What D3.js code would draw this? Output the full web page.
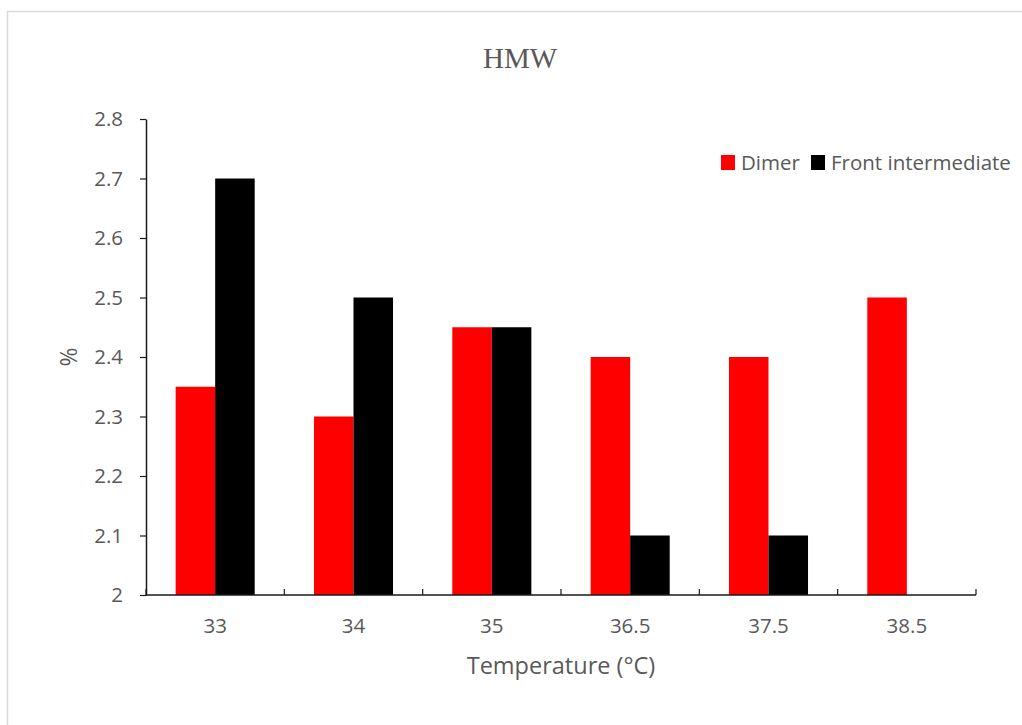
<!DOCTYPE html>
<html>
<head>
<meta charset="utf-8">
<script src="https://cdn.jsdelivr.net/npm/d3@7"></script>
<style>
  html, body { margin: 0; padding: 0; background: #fff; }
  svg { display: block; }
</style>
</head>
<body>
<svg id="chart" width="1022" height="725"></svg>
<script>
// Temperature categories and HMW percentages per species
const categories = ["33", "34", "35", "36.5", "37.5", "38.5"];
const dimer = [2.35, 2.3, 2.45, 2.4, 2.4, 2.5];
const frontIntermediate = [2.7, 2.5, 2.45, 2.1, 2.1, null];
const seriesNames = ["Dimer", "Front intermediate"];
const seriesColors = ["#ff0000", "#000000"];
const yTicks = [2, 2.1, 2.2, 2.3, 2.4, 2.5, 2.6, 2.7, 2.8];

const svg = d3.select("#chart");
const W = 1022, H = 725;
const textColor = "#595959";
const font = "'Open Sans', 'Noto Sans', sans-serif";

// chart frame
svg.append("rect")
  .attr("x", 7.5).attr("y", 11.5)
  .attr("width", W + 10).attr("height", H + 10)
  .attr("fill", "#fff").attr("stroke", "#d9d9d9").attr("stroke-width", 1.5);

const plot = { left: 146, right: 976, top: 119, bottom: 595 };

const x = d3.scaleBand().domain(categories)
  .range([plot.left, plot.right]).paddingInner(0).paddingOuter(0);
const y = d3.scaleLinear().domain([2, 2.8]).range([plot.bottom, plot.top]);

// bars: group width is 2 bars, gap 150% of bar width
const barW = x.bandwidth() / (2 + 1.5);
const sub = d3.scaleBand().domain([0, 1])
  .range([x.bandwidth() / 2 - barW, x.bandwidth() / 2 + barW]).padding(0);

const series = [dimer, frontIntermediate];
series.forEach((vals, si) => {
  svg.append("g").selectAll("rect")
    .data(categories.map((c, i) => ({ c, v: vals[i] })).filter(d => d.v != null))
    .join("rect")
    .attr("x", d => x(d.c) + sub(si))
    .attr("width", sub.bandwidth())
    .attr("y", d => y(d.v))
    .attr("height", d => y(2) - y(d.v))
    .attr("fill", seriesColors[si]);
});

// y axis
const yAxis = svg.append("g")
  .attr("transform", `translate(${plot.left},0)`)
  .call(d3.axisLeft(y).tickValues(yTicks).tickSize(6).tickSizeOuter(0)
    .tickFormat(d => d3.format("")(+d.toFixed(1))));
yAxis.select(".domain").attr("stroke", "#1a1a1a").attr("stroke-width", 1.5);
yAxis.selectAll(".tick line").attr("stroke", "#1a1a1a").attr("stroke-width", 1.2);
yAxis.selectAll(".tick text")
  .attr("x", -23)
  .attr("fill", textColor).attr("font-size", 20.5).attr("font-family", font);

// x axis with tick marks at category boundaries
const xAxisG = svg.append("g").attr("transform", `translate(0,${plot.bottom})`);
xAxisG.append("line")
  .attr("x1", plot.left).attr("x2", plot.right)
  .attr("stroke", "#1a1a1a").attr("stroke-width", 1.5);
const boundaries = categories.map(c => x(c)).concat([plot.right]);
xAxisG.selectAll("line.tk").data(boundaries).join("line").attr("class", "tk")
  .attr("x1", d => d).attr("x2", d => d).attr("y1", 0).attr("y2", -6)
  .attr("stroke", "#1a1a1a").attr("stroke-width", 1.2);
xAxisG.selectAll("text").data(categories).join("text")
  .attr("x", d => x(d) + x.bandwidth() / 2)
  .attr("y", 38)
  .attr("text-anchor", "middle")
  .attr("fill", textColor).attr("font-size", 20.5).attr("font-family", font)
  .text(d => d);

// title
svg.append("text")
  .attr("x", 520).attr("y", 68)
  .attr("text-anchor", "middle")
  .attr("fill", textColor).attr("font-size", 29)
  .attr("font-family", "'Liberation Serif', 'DejaVu Serif', serif")
  .text("HMW");

// axis titles
svg.append("text")
  .attr("x", 561).attr("y", 674)
  .attr("text-anchor", "middle")
  .attr("fill", textColor).attr("font-size", 23.5).attr("font-family", font)
  .text("Temperature (°C)");
svg.append("text")
  .attr("transform", "translate(77,357) rotate(-90)")
  .attr("text-anchor", "middle")
  .attr("fill", textColor).attr("font-size", 23).attr("font-family", font)
  .text("%");

// legend
const legend = svg.append("g").attr("transform", "translate(721,155)");
const legendX = [0, 90];
seriesNames.forEach((name, i) => {
  const g = legend.append("g").attr("transform", `translate(${legendX[i]},0)`);
  g.append("rect").attr("width", 14).attr("height", 15).attr("fill", seriesColors[i]);
  g.append("text").attr("x", 20).attr("y", 15)
    .attr("fill", textColor).attr("font-size", 20.5).attr("font-family", font)
    .text(name);
});
</script>
</body>
</html>
